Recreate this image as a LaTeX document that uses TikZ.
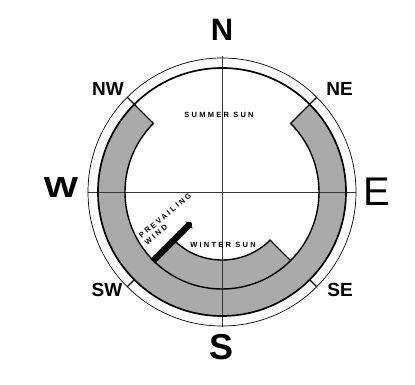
\documentclass[tikz,border=0pt]{standalone}
\usepackage{fontspec}
\setmainfont{Liberation Sans}
\newfontfamily\spacedsans[LetterSpace=30]{Liberation Sans}
\usetikzlibrary{arrows.meta}
\definecolor{BandGray}{RGB}{170,170,170}
\definecolor{RuleGray}{RGB}{55,55,55}

\begin{document}
\begin{tikzpicture}[x=1pt, y=1pt,
    rim/.style={draw=black, line width=0.7pt},
    edge/.style={draw=black, line width=1.4pt},
    axisline/.style={draw=RuleGray, line width=0.8pt},
    cardinal/.style={font=\fontsize{31}{31}\selectfont\bfseries, inner sep=0pt},
    intercard/.style={font=\fontsize{19}{19}\selectfont\bfseries, inner sep=0pt},
    sunlabel/.style={font=\fontsize{7.5}{9}\selectfont\spacedsans\bfseries, inner sep=0pt}]
  \useasboundingbox (-222,-192) rectangle (193,192);

  % shaded sun band
  \fill[BandGray] (135:124) arc[start angle=135, end angle=405, radius=124]
    -- (45:97) arc[start angle=45, end angle=-45, radius=97]
    -- (-45:68) arc[start angle=-45, end angle=-135, radius=68]
    -- (-135:97) arc[start angle=-135, end angle=-225, radius=97] -- cycle;

  % cross lines
  \draw[axisline] (90:136) -- (-90:135);
  \draw[axisline] (180:134) -- (0:134);

  % rings and band edges
  \draw[rim] (0,0) circle[radius=134];
  \draw[edge, line width=1.7pt] (0,0) circle[radius=124];
  \draw[edge] (45:97) arc[start angle=45, end angle=-225, radius=97];
  \draw[edge] (-135:97) -- (-135:68) arc[start angle=-135, end angle=-45, radius=68] -- (-45:97);
  \draw[edge] (135:97) -- (135:134);
  \draw[edge] (45:97) -- (45:134);
  \draw[edge, line width=1.1pt] (225:124) -- (225:134);
  \draw[edge, line width=1.1pt] (315:124) -- (315:134);

  % prevailing wind
  \coordinate (windbase) at (225:98);
  \coordinate (windtip) at (225:43);
  \draw[line width=6.5pt, -{Triangle[width=10pt, length=4pt]}] (windbase) -- (windtip);

  % labels
  \node[cardinal] (north) at (0,162) {N};
  \node[cardinal, font=\fontsize{36}{36}\selectfont\bfseries] (south) at (0,-155) {S};
  \node[cardinal, font=\fontsize{29}{29}\selectfont\bfseries, xscale=1.25] (west) at (-161,4) {W};
  \node[cardinal, font=\fontsize{40}{40}\selectfont] (east) at (155,0) {E};
  \node[intercard] (nw) at (-114,103) {NW};
  \node[intercard] (ne) at (117.5,103) {NE};
  \node[intercard] (sw) at (-115,-98) {SW};
  \node[intercard] (se) at (118,-98) {SE};
  \node[sunlabel] (summer) at (-3,77.5) {SUMMER SUN};
  \node[sunlabel] (winter) at (1,-52.5) {WINTER SUN};
  \node[sunlabel, rotate=40, align=left] (prevailing) at (-54,-27) {PREVAILING\\WIND};
\end{tikzpicture}
\end{document}
